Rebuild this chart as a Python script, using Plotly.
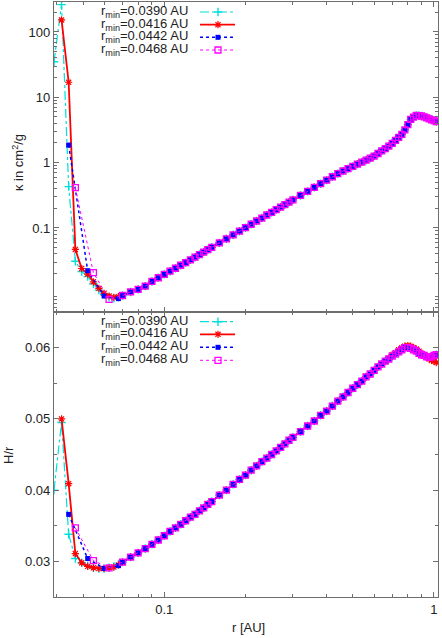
import math
import plotly.graph_objects as go

# inner edge, every run on its own grid [AU]
r_cyan_in = [0.0390, 0.0416, 0.0442, 0.0468, 0.0494, 0.0520, 0.0546, 0.0572, 0.0598, 0.0624, 0.0650, 0.0676]
r_red_in = [0.0416, 0.0442, 0.0468, 0.0494, 0.0520, 0.0546, 0.0572, 0.0598, 0.0624, 0.0650, 0.0676]
r_blue_in = [0.0442, 0.0520, 0.0598, 0.0676]
r_mag_in = [0.0468, 0.0546, 0.0624]

kappa_cyan_in = [35, 262, 0.43, 0.031, 0.0215, 0.018, 0.014, 0.0112, 0.0095, 0.0087, 0.0084, 0.0087]
kappa_red_in = [153, 17, 0.047, 0.024, 0.0197, 0.015, 0.0119, 0.0100, 0.0091, 0.0087, 0.0089]
kappa_blue_in = [1.86, 0.0222, 0.0091, 0.0083]
kappa_mag_in = [0.414, 0.0207, 0.0081]

hr_cyan_in = [0.0400, 0.0495, 0.0338, 0.0304, 0.0298, 0.0294, 0.0291, 0.0290, 0.0290, 0.0291, 0.0293, 0.0296]
hr_red_in = [0.0500, 0.0409, 0.0311, 0.0298, 0.0293, 0.0291, 0.0290, 0.0290, 0.0291, 0.0292, 0.0295]
hr_blue_in = [0.0366, 0.0304, 0.0290, 0.0294]
hr_mag_in = [0.0347, 0.0301, 0.0291]

# outer disc, where all runs lie on top of each other
r_outer = [0.070, 0.075, 0.080, 0.085, 0.090, 0.095, 0.100, 0.105, 0.110, 0.115, 0.120, 0.125,
           0.130, 0.135, 0.140, 0.145, 0.150, 0.16, 0.17, 0.18, 0.19, 0.20, 0.21, 0.22, 0.23,
           0.24, 0.25, 0.26, 0.27, 0.28, 0.29, 0.30, 0.32, 0.34, 0.36, 0.38, 0.40, 0.42, 0.44,
           0.46, 0.48, 0.50, 0.52, 0.54, 0.56, 0.58, 0.60, 0.62, 0.64, 0.66, 0.68, 0.70, 0.72,
           0.74, 0.76, 0.78, 0.80, 0.82, 0.84, 0.86, 0.88, 0.90, 0.92, 0.94, 0.96, 0.98, 1.00, 1.02]
kappa_outer = [0.00926, 0.0105, 0.0115, 0.0129, 0.0152, 0.0173, 0.0195, 0.0218, 0.0242, 0.0269,
               0.0295, 0.0325, 0.0357, 0.0392, 0.0428, 0.0465, 0.0506, 0.0591, 0.0683, 0.0787,
               0.0893, 0.101, 0.114, 0.128, 0.142, 0.158, 0.173, 0.191, 0.209, 0.228, 0.248,
               0.269, 0.315, 0.364, 0.418, 0.476, 0.541, 0.608, 0.680, 0.745, 0.811, 0.877,
               0.947, 1.02, 1.09, 1.17, 1.26, 1.38, 1.51, 1.64, 1.79, 1.97, 2.20, 2.44, 2.70,
               3.17, 3.82, 4.59, 4.97, 5.27, 5.23, 5.18, 5.02, 4.84, 4.69, 4.53, 4.39, 4.25]
hr_outer = [0.0299, 0.0306, 0.0312, 0.0318, 0.0324, 0.0330, 0.0336, 0.0342, 0.0347, 0.0352,
            0.0357, 0.0362, 0.0366, 0.0371, 0.0375, 0.0380, 0.0384, 0.0393, 0.0400, 0.0408,
            0.0415, 0.0421, 0.0428, 0.0434, 0.0440, 0.0445, 0.0450, 0.0455, 0.0460, 0.0465,
            0.0470, 0.0474, 0.0482, 0.0490, 0.0497, 0.0505, 0.0511, 0.0518, 0.0525, 0.0531,
            0.0537, 0.0543, 0.0548, 0.0553, 0.0559, 0.0563, 0.0568, 0.0573, 0.0577, 0.0581,
            0.0584, 0.0588, 0.0591, 0.0594, 0.0597, 0.0600, 0.0600, 0.0599, 0.0597, 0.0595,
            0.0592, 0.0590, 0.0589, 0.0587, 0.05865, 0.0587, 0.0589, 0.0590]
# r_min=0.0416 separates a little near the bump (r >= 0.68)
hr_red_tail = [0.0585, 0.0590, 0.0593, 0.0597, 0.0600, 0.0602, 0.0603, 0.0602, 0.0600, 0.0598,
               0.0595, 0.0592, 0.0590, 0.0587, 0.0584, 0.0582, 0.0581, 0.0579]

labels = ["0.0390", "0.0416", "0.0442", "0.0468"]

# plot area in pixels
W, H = 442, 638
ML, MR, MT, MB = 54, 4, 2, 41
PW, PH = W - ML - MR, H - MT - MB
SPLIT = (H - MB - 312) / PH

XR = [math.log10(0.039), math.log10(1.035)]
KR = [-2.286, 2.459]
HR = [0.025, 0.065]

tail = r_outer.index(0.68)
runs = [
    dict(r=r_cyan_in, k=kappa_cyan_in, h=hr_cyan_in, h_out=hr_outer,
         color="#00dede", dash="dashdot", width=1.2, symbol="cross-thin", size=6, mlw=1.4),
    dict(r=r_red_in, k=kappa_red_in, h=hr_red_in, h_out=hr_outer[:tail] + hr_red_tail,
         color="#ff0000", dash="solid", width=1.8, symbol="asterisk-open", size=6, mlw=1.2),
    dict(r=r_blue_in, k=kappa_blue_in, h=hr_blue_in, h_out=hr_outer,
         color="#0000ff", dash="dot", width=1.5, symbol="square", size=5, mlw=0),
    dict(r=r_mag_in, k=kappa_mag_in, h=hr_mag_in, h_out=hr_outer,
         color="#ff00ff", dash="dot", width=1, symbol="square-open", size=6, mlw=1.3),
]


def marker_of(run):
    return dict(symbol=run["symbol"], size=run["size"], color=run["color"],
                line=dict(color=run["color"], width=run["mlw"]))


def px_x(px):
    return (px - ML) / PW


def px_y(py):
    return (H - MB - py) / PH


fig = go.Figure()
for lab, run in zip(labels, runs):
    r = run["r"] + r_outer
    style = dict(
        mode="lines+markers",
        line=dict(color=run["color"], dash=run["dash"], width=run["width"]),
        marker=marker_of(run),
        showlegend=False,
        name="r_min=" + lab + " AU",
    )
    fig.add_trace(go.Scatter(x=r, y=run["k"] + kappa_outer, xaxis="x", yaxis="y", **style))
    fig.add_trace(go.Scatter(x=r, y=run["h"] + run["h_out"], xaxis="x2", yaxis="y2", **style))


# hand-made key: text on the left, sample on the right (gnuplot style)
def px_to_r(px):
    return 10 ** (XR[0] + px_x(px) * (XR[1] - XR[0]))


key_rows = {"top": [12, 24.7, 37.3, 50], "bottom": [321.7, 334.3, 347.3, 360.3]}
annotations = []
for panel, rows in key_rows.items():
    for lab, run, py in zip(labels, runs, rows):
        yp = px_y(py)
        annotations.append(dict(
            x=px_x(190), y=yp + 0.5 / PH, xref="paper", yref="paper",
            xanchor="right", yanchor="middle", showarrow=False,
            text="r<sub>min</sub>=" + lab + " AU",
            font=dict(size=13, color="#222222"),
        ))
        if panel == "top":
            f = (yp - SPLIT) / (1 - SPLIT)
            ky = 10 ** (KR[0] + f * (KR[1] - KR[0]))
            axes = dict(xaxis="x", yaxis="y")
        else:
            f = yp / SPLIT
            ky = HR[0] + f * (HR[1] - HR[0])
            axes = dict(xaxis="x2", yaxis="y2")
        fig.add_trace(go.Scatter(
            x=[px_to_r(200), px_to_r(235)], y=[ky, ky], mode="lines",
            line=dict(color=run["color"], dash=run["dash"], width=run["width"]),
            showlegend=False, hoverinfo="skip", **axes,
        ))
        fig.add_trace(go.Scatter(
            x=[px_to_r(218)], y=[ky], mode="markers", marker=marker_of(run),
            showlegend=False, hoverinfo="skip", **axes,
        ))

# axis titles as plain annotations (keeps plotly from pushing the margins)
titles = [
    ("r [AU]", 248.5, 627, 0),
    ("κ in cm<sup>2</sup>/g", 18, 163, -90),
    ("H/r", 8, 455, -90),
]
for text, tx, ty, angle in titles:
    annotations.append(dict(
        x=px_x(tx), y=px_y(ty), xref="paper", yref="paper",
        xanchor="center", yanchor="middle", showarrow=False, textangle=angle,
        text=text, font=dict(size=13, color="#222222"),
    ))

frame = dict(showline=True, linecolor="#6e6e6e", linewidth=1.3, mirror="allticks",
             ticks="inside", ticklen=5, tickcolor="#6e6e6e", tickwidth=1,
             showgrid=False, zeroline=False, automargin=False,
             tickfont=dict(size=13, color="#222222"))
minor = dict(ticks="inside", ticklen=3, tickcolor="#6e6e6e", tickwidth=1, showgrid=False)

x_minor = [0.04, 0.05, 0.06, 0.07, 0.08, 0.09, 0.2, 0.3, 0.4, 0.5, 0.6, 0.7, 0.8, 0.9]
k_minor = [m * 10 ** e for e in range(-3, 3) for m in range(2, 10)]

fig.update_layout(
    width=W, height=H,
    margin=dict(l=ML, r=MR, t=MT, b=MB),
    paper_bgcolor="white", plot_bgcolor="white",
    font=dict(family="Liberation Sans, Arial, sans-serif", size=13, color="#222222"),
    xaxis=dict(frame, type="log", range=XR, domain=[0, 1], anchor="y",
               tickvals=[0.1, 1], showticklabels=False,
               minor=dict(minor, tickvals=x_minor)),
    yaxis=dict(frame, type="log", range=KR, domain=[SPLIT, 1], anchor="x",
               tickvals=[0.1, 1, 10, 100], ticktext=["0.1", "1", "10", "100"],
               minor=dict(minor, tickvals=k_minor)),
    xaxis2=dict(frame, type="log", range=XR, domain=[0, 1], anchor="y2",
                tickvals=[0.1, 1], ticktext=["0.1", "1"],
                minor=dict(minor, tickvals=x_minor)),
    yaxis2=dict(frame, range=HR, domain=[0, SPLIT], anchor="x2",
                tickvals=[0.03, 0.04, 0.05, 0.06], ticktext=["0.03", "0.04", "0.05", "0.06"],
                minor=dict(minor, tickvals=[0.035, 0.045, 0.055])),
    annotations=annotations,
)

fig.write_html("out.html", config={"displayModeBar": False},
               post_script="document.body.style.margin='0';")
